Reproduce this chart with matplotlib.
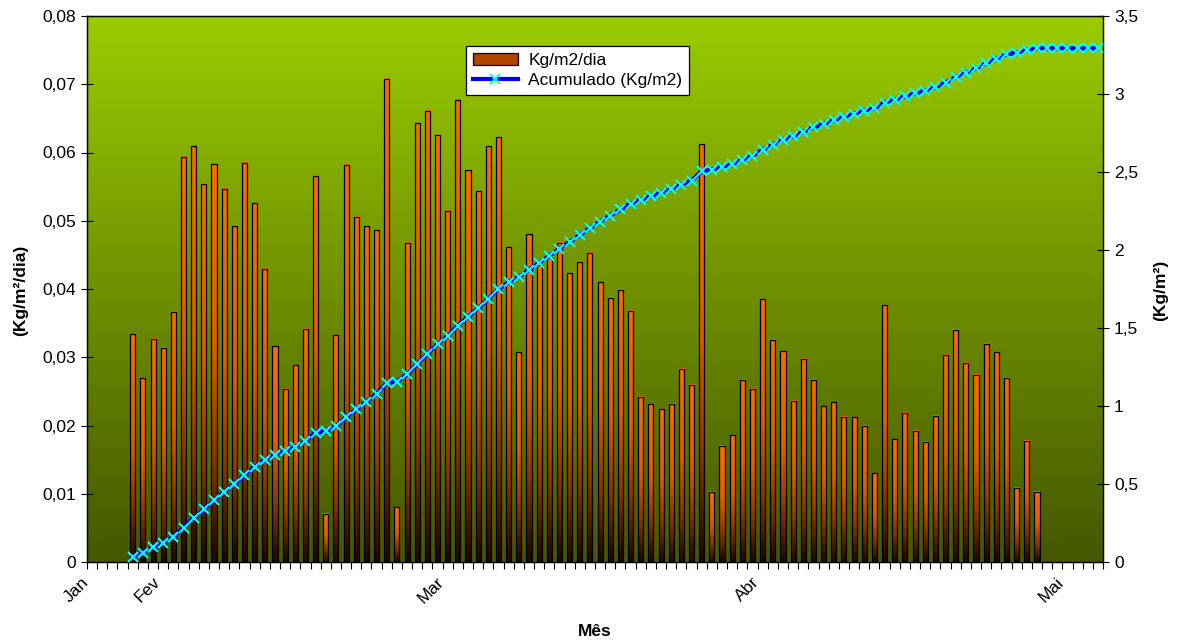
import numpy as np
import pandas as pd
import matplotlib
matplotlib.use('Agg')
import matplotlib.pyplot as plt
import matplotlib.transforms as mtransforms
from matplotlib.colors import LinearSegmentedColormap
from matplotlib.patches import Patch
from matplotlib.lines import Line2D
from matplotlib.ticker import FuncFormatter

plt.rcParams['font.family'] = ['Liberation Sans', 'DejaVu Sans']

# daily values (Kg/m2/dia), one per day starting 29 Jan
kg_dia = [0.0334, 0.0269, 0.0327, 0.0314, 0.0367, 0.0594, 0.0610, 0.0554, 0.0583, 0.0547,
          0.0493, 0.0585, 0.0526, 0.0430, 0.0316, 0.0254, 0.0288, 0.0342, 0.0566, 0.0071,
          0.0332, 0.0582, 0.0506, 0.0493, 0.0486, 0.0708, 0.0080, 0.0468, 0.0643, 0.0661,
          0.0625, 0.0515, 0.0677, 0.0574, 0.0543, 0.0609, 0.0622, 0.0461, 0.0307, 0.0480,
          0.0435, 0.0445, 0.0468, 0.0423, 0.0440, 0.0453, 0.0410, 0.0387, 0.0399, 0.0368,
          0.0242, 0.0231, 0.0224, 0.0232, 0.0283, 0.0260, 0.0612, 0.0103, 0.0170, 0.0186,
          0.0267, 0.0254, 0.0385, 0.0326, 0.0309, 0.0236, 0.0298, 0.0267, 0.0228, 0.0234,
          0.0213, 0.0212, 0.0200, 0.0130, 0.0376, 0.0180, 0.0219, 0.0192, 0.0176, 0.0214,
          0.0304, 0.0340, 0.0292, 0.0274, 0.0320, 0.0307, 0.0270, 0.0109, 0.0178, 0.0103]
primeiro_dia = '2007-01-29'
ultimo_dia_acum = '2007-05-04'   # accumulated line keeps going (flat) until here

inicio_eixo = pd.Timestamp('2007-01-25')
fim_eixo = pd.Timestamp('2007-05-05')
meses = ['Jan', 'Fev', 'Mar', 'Abr', 'Mai']
meses_datas = ['2007-01-25', '2007-02-01', '2007-03-01', '2007-04-01', '2007-05-01']

datas = pd.date_range(primeiro_dia, periods=len(kg_dia), freq='D')
datas_acum = pd.date_range(primeiro_dia, ultimo_dia_acum, freq='D')
diario_acum = np.concatenate([kg_dia, np.zeros(len(datas_acum) - len(kg_dia))])
acumulado = np.cumsum(diario_acum)

x_bar = (datas - inicio_eixo).days.values + 0.5
x_acum = (datas_acum - inicio_eixo).days.values + 0.5
x_meses = (pd.to_datetime(meses_datas) - inicio_eixo).days.values
x_fim = (fim_eixo - inicio_eixo).days

fs = 12.5
fig = plt.figure(figsize=(11.77, 6.42), dpi=100)
ax = fig.add_axes([87 / 1177, 80 / 642, 1016 / 1177, 546 / 642])

# background gradient
fundo = LinearSegmentedColormap.from_list('fundo', ['#455700', '#6f9000', '#99cc00'])
grad = np.linspace(0, 1, 256).reshape(-1, 1)
ax.imshow(grad, extent=(0, x_fim, 0, 0.08), origin='lower', aspect='auto', cmap=fundo, zorder=0)

# bars with vertical gradient
barra = LinearSegmentedColormap.from_list(
    'barra', [(0, '#1a0600'), (0.25, '#8a3200'), (0.55, '#e85a00'), (1, '#ff6a00')])
w = 0.5
for xi, h in zip(x_bar, kg_dia):
    ax.imshow(grad, extent=(xi - w / 2, xi + w / 2, 0, h), origin='lower', aspect='auto',
              cmap=barra, zorder=2)
ax.bar(x_bar, kg_dia, width=w, facecolor='none', edgecolor='black', linewidth=0.9, zorder=3)

ax.set_xlim(0, x_fim)
ax.set_ylim(0, 0.08)
ax.set_yticks(np.arange(0, 0.081, 0.01))
ax.yaxis.set_major_formatter(FuncFormatter(lambda v, p: '0' if abs(v) < 1e-9 else f'{v:.2f}'.replace('.', ',')))
ax.set_xticks(x_meses)
ax.set_xticklabels(meses, rotation=45, ha='right', rotation_mode='anchor')
ax.set_xticks(np.arange(0, x_fim + 1), minor=True)
ax.tick_params(axis='x', which='both', direction='out', length=5, width=0.8, color='black',
               labelsize=fs, pad=4)
ax.tick_params(axis='y', direction='inout', length=8, width=0.8, labelsize=fs, pad=4)
desloc = mtransforms.ScaledTranslation(-6 / 100, 0, fig.dpi_scale_trans)
for lbl in ax.get_xticklabels():
    lbl.set_transform(lbl.get_transform() + desloc)

ax2 = ax.twinx()
ax2.plot(x_acum, acumulado, color='#0000ff', linewidth=3, marker='x', markersize=7,
         markeredgecolor='#00ffff', markeredgewidth=1.5, zorder=4)
ax2.set_ylim(0, 3.5)
ax2.set_yticks(np.arange(0, 3.51, 0.5))
ax2.yaxis.set_major_formatter(FuncFormatter(lambda v, p: f'{v:g}'.replace('.', ',')))
ax2.tick_params(axis='y', direction='inout', length=8, width=0.8, labelsize=fs, pad=4)

for a in (ax, ax2):
    for s in a.spines.values():
        s.set_color('black')
        s.set_linewidth(0.9)

fig.text(21 / 1177, 1 - 290 / 642, '(Kg/m²/dia)', rotation=90, ha='center', va='center',
         fontsize=fs, fontweight='bold')
fig.text(1161 / 1177, 1 - 290 / 642, '(Kg/m²)', rotation=90, ha='center', va='center',
         fontsize=fs, fontweight='bold')
fig.text(595 / 1177, 1 - 632 / 642, 'Mês', ha='center', va='center', fontsize=fs, fontweight='bold')

handles = [Patch(facecolor='#b34400', edgecolor='black', linewidth=0.9),
           Line2D([], [], color='#0000ff', linewidth=3, marker='x', markersize=7,
                  markeredgecolor='#00ffff', markeredgewidth=1.5)]
leg = ax2.legend(handles, ['Kg/m2/dia', 'Acumulado (Kg/m2)'], loc='upper left',
                 bbox_to_anchor=(0.373, 0.945), fontsize=fs, frameon=True, fancybox=False,
                 framealpha=1, edgecolor='black', borderpad=0.4, labelspacing=0.3,
                 handlelength=2.6, handletextpad=0.6, borderaxespad=0)
leg.get_frame().set_linewidth(0.9)

fig.savefig('out.png', dpi=100)
